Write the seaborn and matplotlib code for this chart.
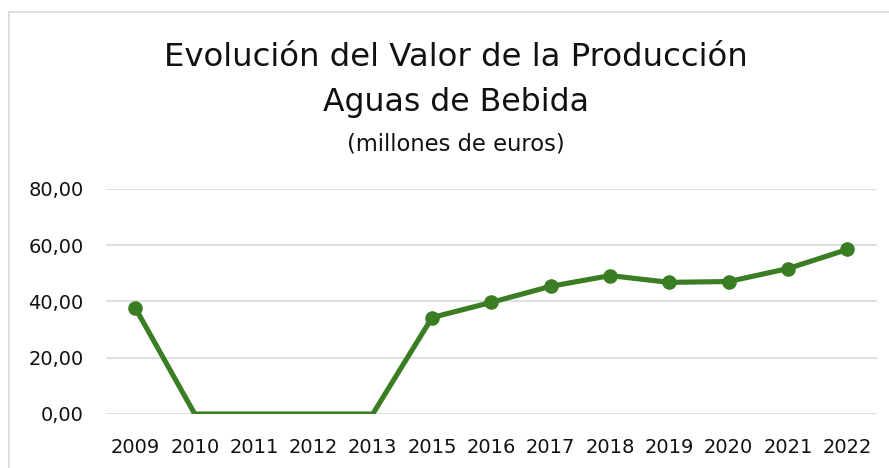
import pandas as pd
import matplotlib
matplotlib.use("Agg")
import matplotlib.pyplot as plt
from matplotlib.patches import Rectangle
import seaborn as sns

# datos del gráfico
years = ["2009", "2010", "2011", "2012", "2013", "2015", "2016",
         "2017", "2018", "2019", "2020", "2021", "2022"]
valor = [37.6, 0, 0, 0, 0, 34.3, 39.7, 45.4, 49.2, 46.8, 47.1, 51.7, 58.5]
y_ticks = [0, 20, 40, 60, 80]
y_tick_labels = ["0,00", "20,00", "40,00", "60,00", "80,00"]

df = pd.DataFrame({"year": years, "valor": valor})

sns.set_style("white")
plt.rcParams["font.family"] = ["DejaVu Sans"]

verde = "#3B7D23"

fig = plt.figure(figsize=(8.89, 4.68), dpi=100)
ax = fig.add_axes([0.119, 0.1154, 0.8675, 0.4808])

# marcadores solo donde hay valor (los ceros no llevan punto)
marcas = [i for i, v in enumerate(valor) if v != 0]
sns.lineplot(data=df, x="year", y="valor", ax=ax, color=verde, linewidth=3.7,
             marker="o", markersize=10.5, markeredgewidth=0, markevery=marcas,
             solid_joinstyle="miter", zorder=3)

ax.set_ylim(0, 80)
ax.set_xlim(-0.5, len(years) - 0.5)
ax.set_yticks(y_ticks)
ax.set_yticklabels(y_tick_labels)
ax.set_xlabel("")
ax.set_ylabel("")
ax.grid(axis="y", color="#d9d9d9", linewidth=1.2)
ax.grid(axis="x", visible=False)
ax.set_axisbelow(True)
for s in ax.spines.values():
    s.set_visible(False)
ax.tick_params(axis="y", length=0, pad=16, labelsize=14, labelcolor="#111111")
ax.tick_params(axis="x", length=0, pad=17, labelsize=14, labelcolor="#111111")

# títulos
fig.text(0.513, 1 - 58 / 468, "Evolución del Valor de la Producción",
         ha="center", va="center", fontsize=23.3, color="#111111")
fig.text(0.513, 1 - 102 / 468, "Aguas de Bebida",
         ha="center", va="center", fontsize=22.7, color="#111111")
fig.text(0.513, 1 - 144 / 468, "(millones de euros)",
         ha="center", va="center", fontsize=16.3, color="#111111")

# borde del área del gráfico
fig.patches.append(Rectangle((9 / 889, -0.1), 1.2, 1 + 0.1 - 12 / 468,
                             transform=fig.transFigure, fill=False,
                             edgecolor="#d9d9d9", linewidth=1.2))

fig.savefig("out.png", dpi=100)
